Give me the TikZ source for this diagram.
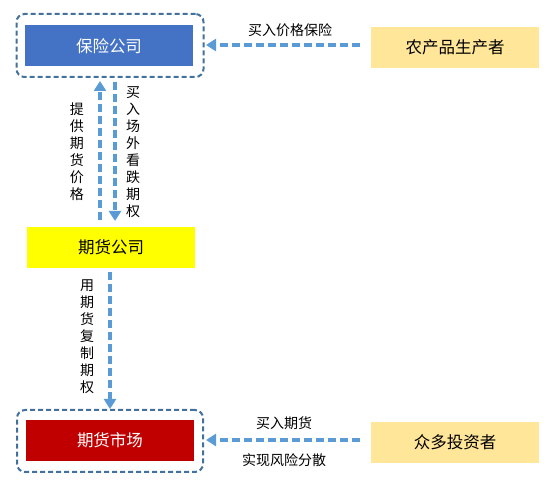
\documentclass[tikz,border=0pt]{standalone}
\usepackage{fontspec}
\setmainfont{Noto Sans CJK SC}
\usetikzlibrary{arrows.meta}
\definecolor{boxblue}{HTML}{4472C4}
\definecolor{boxred}{HTML}{C00000}
\definecolor{boxyellow}{HTML}{FFFF00}
\definecolor{boxtan}{HTML}{FFE699}
\definecolor{arrblue}{HTML}{5B9BD5}
\definecolor{frameblue}{HTML}{41719C}
\tikzset{
  x=1pt,y=-1pt,
  filled/.style={minimum width=168pt, minimum height=41pt, inner sep=0pt, font=\fontsize{16.5}{16.5}\selectfont},
  frame/.style={draw=frameblue, line width=2pt, dash pattern=on 5pt off 3pt, rounded corners=8pt, inner sep=0pt},
  flow/.style={draw=arrblue, line width=3.3pt, dash pattern=on 8pt off 4pt, -{Triangle[length=10pt,width=12pt]}},
  lbl/.style={font=\fontsize{14}{14}\selectfont, inner sep=1pt},
  vlbl/.style={font=\fontsize{14}{17}\selectfont, align=center, inner sep=1pt},
}
\begin{document}
\begin{tikzpicture}
\useasboundingbox (0,0) rectangle (550,481);
% top
\node[filled, fill=boxblue, text=white] (ins) at (109,46) {保险公司};
\node[frame, minimum width=187pt, minimum height=63pt] (insf) at (110,45.5) {};
\node[filled, fill=boxtan] (farm) at (455,47.5) {农产品生产者};
\coordinate (fs) at (360,45);
\coordinate (fe) at (206,45);
\draw[flow] (fs) -- (fe);
\node[lbl] (l1) at (290,30) {买入价格保险};
% middle
\node[filled, fill=boxyellow] (fut) at (111,247.5) {期货公司};
\coordinate (u1) at (100,220);
\coordinate (u2) at (100,81);
\coordinate (d1) at (115,82);
\coordinate (d2) at (115,221);
\draw[flow] (u1) -- (u2);
\draw[flow] (d1) -- (d2);
\node[vlbl] (l2) at (77,152) {提\\供\\期\\货\\价\\格};
\node[vlbl] (l3) at (133,152) {买\\入\\场\\外\\看\\跌\\期\\权};
% bottom
\node[filled, fill=boxred, text=white] (mkt) at (110,440.5) {期货市场};
\node[frame, minimum width=186pt, minimum height=62pt] (mktf) at (110,441) {};
\coordinate (m1) at (110,272);
\draw[flow] (m1) -- (mktf.north);
\node[vlbl] (l4) at (87,337) {用\\期\\货\\复\\制\\期\\权};
\node[filled, fill=boxtan] (inv) at (455,442.5) {众多投资者};
\coordinate (is) at (360,440);
\coordinate (ie) at (206,440);
\draw[flow] (is) -- (ie);
\node[lbl] (l5) at (284,423) {买入期货};
\node[lbl] (l6) at (284,460) {实现风险分散};
\end{tikzpicture}
\end{document}
